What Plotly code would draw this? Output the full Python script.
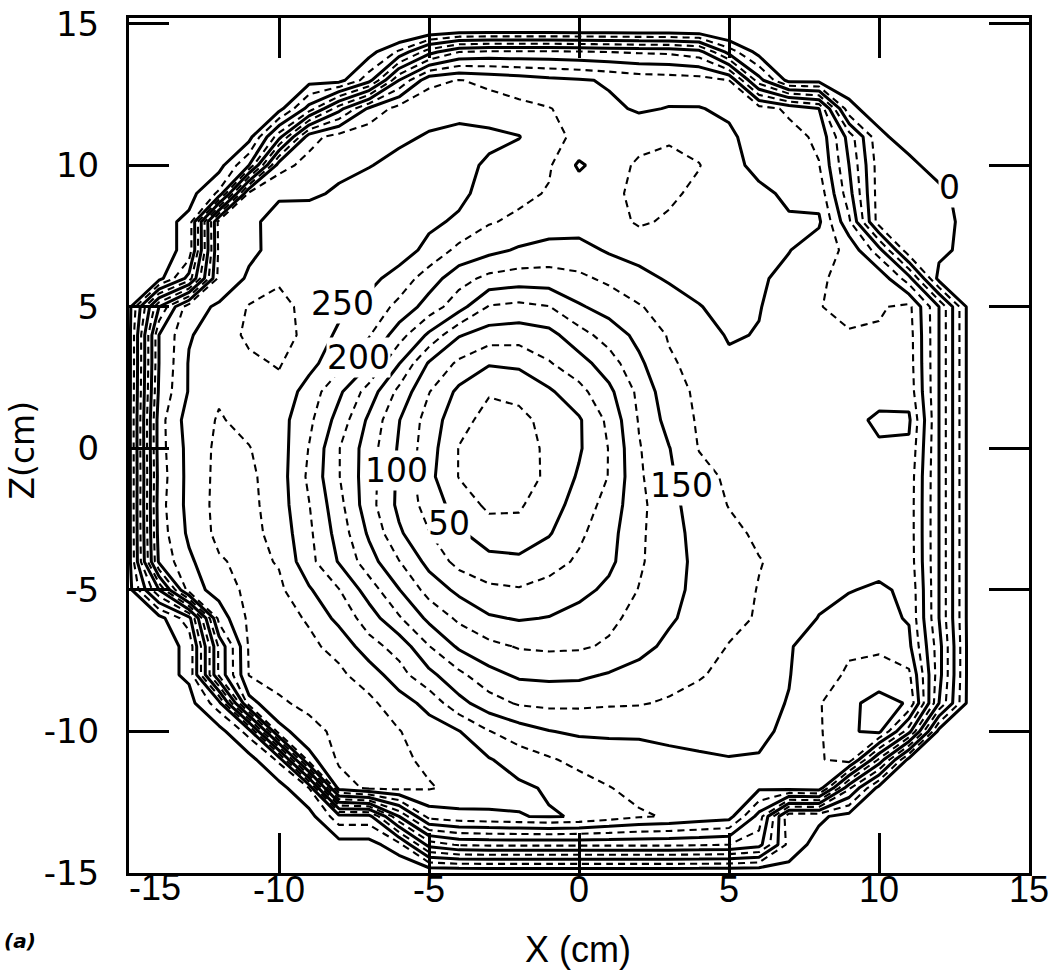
import plotly.graph_objects as go

O = -10    # value assigned outside the phantom
OT = -60   # outside value just above the top edge
OB = -25   # outside value just below the bottom edge

# grid coordinates (cm)
x_cm = list(range(-15, 16))
y_cm_top_down = list(range(15, -16, -1))

# dose map, one row per y (top row y=15 ... bottom row y=-15), columns x=-15..15
dose_rows = [
    [O,O,O,O,O,O,O,O,O, OT,OT,OT,OT,OT,OT,OT,OT,OT,OT,OT,OT, O,O,O,O,O,O,O,O,O,O],
    [O,O,O,O,O,O,O,O,O, 30,90,125,130,130,130,128,125,122,120,110,40, O,O,O,O,O,O,O,O,O,O],
    [O,O,O,O,O,O,O,O, 40,150,218,226,219,213,207,203,197,190,188,186,175,60, O,O,O,O,O,O,O,O,O],
    [O,O,O,O,O,O, 60,140,205,235,242,241,237,231,226,217,205,197,201,201,196,186,170,150,5, O,O,O,O,O,O],
    [O,O,O,O,O, 90,215,236,242,246,252,258,256,251,232,220,212,216,222,215,204,190,184,170,90,5, O,O,O,O,O],
    [O,O,O,O, 50,215,234,243,249,256,262,258,246,237,228,196,214,229,232,226,209,192,185,176,100,12,6, O,O,O,O],
    [O,O,O, 30,232,247,245,254,260,266,264,256,240,231,223,214,218,232,229,220,213,206,195,190,110,12,15,6, O,O,O],
    [O,O, 7,235,245,258,265,268,268,262,255,246,227,220,214,212,216,228,222,216,212,207,203,204,130,12,15,12, O,O,O],
    [O,O, 7,232,246,256,264,268,266,262,243,218,207,197,191,191,203,210,212,213,210,207,201,185,170,110,5,8, O,O,O],
    [O,O, 60,235,253,272,272,268,257,240,212,185,168,163,164,170,180,192,203,208,210,204,192,178,168,170,110,O, O,O,O],
    [O, 150,242,253,277,282,268,256,242,218,189,160,123,118,124,147,160,173,186,199,207,201,190,176,168,172,182,100, O,O,O],
    [O, 200,248,262,280,285,268,245,227,186,145,102,88,86,92,115,136,157,177,190,202,199,190,182,177,178,186,100, O,O,O],
    [O, 200,252,268,270,277,258,233,201,151,97,70,52,55,73,90,113,145,172,182,196,195,190,183,180,182,187,100, O,O,O],
    [O, 205,252,272,271,268,239,205,164,118,76,44,27,31,46,67,94,131,166,179,186,190,188,185,183,187,190,100, O,O,O],
    [O, 215,262,277,268,260,231,190,145,101,64,33,17,19,32,47,81,127,159,178,185,189,190,188,190,206,204,100, O,O,O],
    [O, 215,258,281,276,262,224,176,137,97,61,24,12,14,30,47,76,123,149,176,183,187,189,188,190,196,196,100, O,O,O],
    [O, 212,258,282,280,262,220,176,136,95,57,24,11,13,30,53,76,121,146,167,179,184,187,188,189,191,190,100, O,O,O],
    [O, 215,258,283,282,262,226,183,135,94,65,38,20,22,39,60,85,118,143,161,176,182,186,188,189,190,189,100, O,O,O],
    [O, 212,255,282,283,266,230,190,146,104,76,54,36,33,48,70,91,120,142,157,169,179,184,187,189,190,189,100, O,O,O],
    [O, 205,245,272,283,273,233,198,161,126,92,67,58,56,65,79,94,121,142,155,165,174,181,186,190,193,190,100, O,O,O],
    [O, 100,238,260,282,280,253,226,188,151,115,94,80,77,84,92,106,126,143,156,166,176,186,193,199,203,196,100, O,O,O],
    [O,O, 40,235,280,282,273,242,213,178,144,120,103,98,101,110,120,132,147,158,169,177,186,201,208,207,198,100, O,O,O],
    [O,O, 5,180,278,282,279,269,234,216,176,146,132,123,121,122,128,143,155,165,176,187,198,212,222,220,206,110, O,O,O],
    [O,O, 5,180,276,282,283,279,265,234,207,181,158,146,144,145,152,158,165,173,181,190,199,216,228,238,230,110, O,O,O],
    [O,O,O, 40,240,272,280,283,280,263,241,208,186,172,169,170,172,173,178,183,189,194,201,223,245,258,248,100, O,O,O],
    [O,O,O,O, 35,240,268,280,283,276,263,251,226,212,201,196,196,197,195,193,192,194,206,222,247,256,160, O,O,O,O],
    [O,O,O,O,O, 30,240,279,283,280,270,262,252,238,228,218,212,208,205,203,201,202,212,222,238,120, O,O,O,O,O],
    [O,O,O,O,O,O, 25,262,280,281,277,269,262,255,247,236,226,218,212,208,205,204,210,215,80, O,O,O,O,O,O],
    [O,O,O,O,O,O,O, 40,40,150,235,243,246,249,252,248,238,228,223,216,210,140,5,5, O,O,O,O,O,O,O],
    [O,O,O,O,O,O,O,O,O, 15,110,128,130,130,130,130,130,130,130,128,125,110,15, O,O,O,O,O,O,O,O,O],
    [O,O,O,O,O,O,O,O,O, OB,OB,OB,OB,OB,OB,OB,OB,OB,OB,OB,OB,OB, O,O,O,O,O,O,O,O,O],
]

# contour levels: solid every 50, dashed in between
solid_start, solid_end, solid_step = 0, 250, 50
dashed_start, dashed_end, dashed_step = 25, 275, 50

# contour labels shown on the figure
label_text = ["250", "200", "100", "50", "150", "0"]
label_x = [-7.9, -7.35, -6.1, -4.35, 3.4, 12.35]
label_y = [5.1, 3.2, -0.8, -2.65, -1.3, 9.2]

tick_vals = [-15, -10, -5, 0, 5, 10, 15]
x_tick_text = ["", "-10", "-5", "0", "5", "10", "15"]
y_tick_text = ["-15", "-10", "-5", "0", "5", "10", "15"]
corner_x_label = "-15"

z = dose_rows[::-1]
y_cm = y_cm_top_down[::-1]

fig = go.Figure()
fig.add_trace(go.Contour(
    x=x_cm, y=y_cm, z=z, autocontour=False,
    contours=dict(start=dashed_start, end=dashed_end, size=dashed_step, coloring="none"),
    line=dict(color="black", width=2.1, dash="7px,5px", smoothing=0),
    showscale=False, hoverinfo="skip",
))
fig.add_trace(go.Contour(
    x=x_cm, y=y_cm, z=z, autocontour=False,
    contours=dict(start=solid_start, end=solid_end, size=solid_step, coloring="none"),
    line=dict(color="black", width=3, smoothing=0),
    showscale=False, hoverinfo="skip",
))

label_font = dict(family="DejaVu Sans, Lato, sans-serif", size=33, color="black")
for t, lx, ly in zip(label_text, label_x, label_y):
    fig.add_annotation(x=lx, y=ly, text=t, showarrow=False, font=label_font,
                       bgcolor="white", borderpad=0, xanchor="center", yanchor="middle")

narrow = "Liberation Sans, Arial, sans-serif"
wide = "DejaVu Sans, Verdana, sans-serif"

# the x label at the lower-left corner sits a bit right of its tick in the original
fig.add_annotation(xref="x", yref="paper", x=-14.15, y=-0.0175, text=corner_x_label,
                   showarrow=False, font=dict(family=narrow, size=36, color="black"),
                   xanchor="center", yanchor="middle")
fig.add_annotation(xref="paper", yref="paper", x=0.499, y=-0.090, text="X (cm)",
                   showarrow=False, font=dict(family=narrow, size=36, color="black"),
                   xanchor="center", yanchor="middle")
fig.add_annotation(xref="paper", yref="paper", x=-0.118, y=0.495, text="Z(cm)",
                   showarrow=False, textangle=-90,
                   font=dict(family=wide, size=33, color="black"),
                   xanchor="center", yanchor="middle")
fig.add_annotation(xref="paper", yref="paper", x=-0.121, y=-0.079, text="<b><i>(a)</i></b>",
                   showarrow=False, font=dict(family=wide, size=20, color="black"),
                   xanchor="center", yanchor="middle")

axis_common = dict(
    tickvals=tick_vals, ticks="inside", ticklen=40, tickwidth=3,
    tickcolor="black", showline=True, linewidth=3, linecolor="black", mirror="ticks",
    showgrid=False, zeroline=False, automargin=False,
)
fig.update_xaxes(range=[-15, 15], ticktext=x_tick_text,
                 tickfont=dict(family=narrow, size=36, color="black"),
                 ticklabelstandoff=-17, **axis_common)
fig.update_yaxes(range=[-15, 15.2], ticktext=y_tick_text,
                 tickfont=dict(family=wide, size=34, color="black"),
                 ticklabelstandoff=20, **axis_common)

fig.update_layout(
    width=1055, height=971,
    margin=dict(l=129, r=26, t=18, b=98),
    paper_bgcolor="white", plot_bgcolor="white", showlegend=False,
)

fig.write_html("out.html", config={"displayModeBar": False},
               post_script="document.body.style.margin='0px';")
